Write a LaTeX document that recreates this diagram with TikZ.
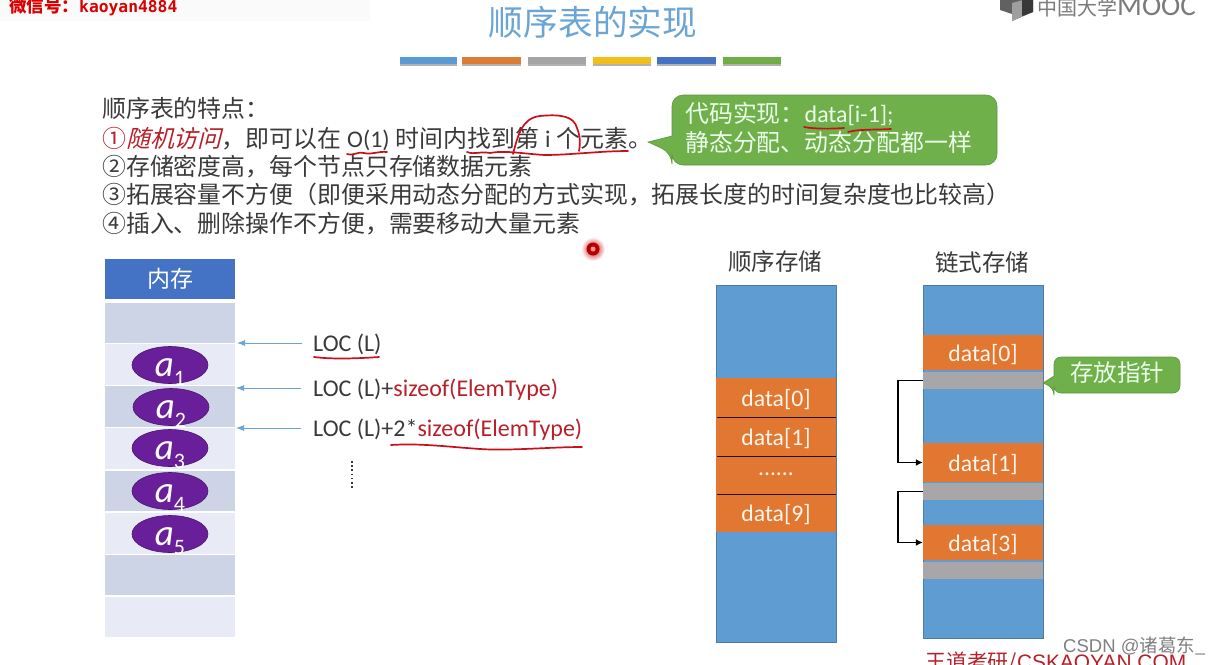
\documentclass[tikz,border=0pt]{standalone}
\usepackage{fontspec}
\setmainfont{Noto Sans CJK SC}
\newfontfamily\lat{Carlito}
\newfontfamily\cjkit[FakeSlant=0.25]{Noto Sans CJK SC}
\newfontfamily\arl{Liberation Sans}
\newfontfamily\mon{DejaVu Sans Mono}
\usetikzlibrary{shapes.geometric,shapes.callouts,arrows.meta}
\definecolor{tblue}{HTML}{6BA5D6}
\definecolor{cblue}{HTML}{5F9CD1}
\definecolor{corange}{HTML}{E27731}
\definecolor{cgray}{HTML}{A8A6A8}
\definecolor{cgreen}{HTML}{70B04A}
\definecolor{txt}{HTML}{3A3A3A}
\definecolor{redt}{HTML}{B8202A}
\definecolor{inkr}{HTML}{C8101A}
\definecolor{memh}{HTML}{4472C4}
\definecolor{memd}{HTML}{CDD4E6}
\definecolor{meml}{HTML}{E8EBF5}
\definecolor{purp}{HTML}{6A1F9A}
\tikzset{
  body/.style={anchor=base west,inner sep=0pt,text=txt,font=\fontsize{23.9}{28}\selectfont},
  cell/.style={rectangle,inner sep=0pt,draw=none,minimum width=#1},
  memcell/.style={cell=130pt},
  seqcell/.style={cell=120pt,fill=corange},
  colbox/.style={cell=120pt,fill=cblue,draw=#1,line width=.6pt},
  datal/.style={text=white!92!orange,font=\lat\fontsize{23.7}{26}\selectfont},
  elem/.style={ellipse,fill=purp,draw=purp!70!black,line width=.6pt,minimum width=76pt,minimum height=37pt,inner sep=0pt,text=white,font=\lat\itshape\fontsize{37}{37}\selectfont},
  loc/.style={anchor=base west,inner sep=0pt,text=txt,font=\lat\fontsize{24}{28}\selectfont},
  head/.style={text=txt,inner sep=0pt,font=\fontsize{23.5}{28}\selectfont},
  ink/.style={draw=inkr,line width=1.7pt,line cap=round,line join=round},
  bluearrow/.style={draw=tblue,line width=.9pt,-{Latex[length=8pt,width=6pt]}},
  ptr/.style={draw=black,line width=1.7pt,-{Latex[length=7pt,width=7pt]}},
  divider/.style={draw=black!85!corange,line width=1.2pt},
}
\newcommand{\elemtext}[1]{\raisebox{-11pt}[0pt][0pt]{a\raisebox{-9pt}{\upshape\fontsize{22}{22}\selectfont #1}}}
\newcommand{\dl}[1]{\raisebox{-8.5pt}[0pt][0pt]{#1}}
\begin{document}
\begin{tikzpicture}[x=1pt,y=-1pt]
\useasboundingbox (0,0) rectangle (1220,664);
\clip (0,0) rectangle (1220,664);
\fill[white] (0,0) rectangle (1220,664);
% top-left strip
\fill[black!2] (0,0) rectangle (370,21);
\node[anchor=base west,inner sep=0pt,text=red!85!black,font=\fontsize{17.5}{20}\selectfont\bfseries] (wx) at (9,12) {微信号：{\mon\fontsize{16.3}{20}\selectfont\bfseries kaoyan4884}};
% MOOC logo
\fill[black!62] (1000,0) -- (1000,10) -- (1012,14) -- (1012,21) -- (1033,12) -- (1033,0) -- cycle;
\fill[black!38] (1012,3) -- (1012,21) -- (1023,16) -- (1023,0) -- cycle;
\fill[black!78] (1022,0) -- (1022,16) -- (1033,12) -- (1033,0) -- cycle;
\node[anchor=base west,inner sep=0pt,text=black!52,font=\fontsize{20}{24}\selectfont] (mooc) at (1037,15) {中国大学{\lat\fontsize{29}{29}\selectfont MOOC}};
% title
\node[inner sep=0pt,text=tblue,font=\fontsize{34.7}{40}\selectfont] (title) at (593,22) {顺序表的实现};
% colour bars
\foreach \a/\b/\c in {400/457/5B9BD5,462/521/DD7C35,528/586/A5A5A5,593/651/F2BE1A,657/716/4472C4,723/781/70AD47}{
  \definecolor{barc}{HTML}{\c}
  \fill[black!30] (\a,60) rectangle (\b,66);
  \fill[barc] (\a,57) rectangle (\b,64);
}
% text block
\node[body] (l0) at (102,117) {顺序表的特点：};
\node[body] (l1) at (102,147.5) {{\color{redt}①\cjkit 随机访问}，即可以在\hspace{6pt}{\lat O(1)}\hspace{6pt}时间内找到第\hspace{6pt}{\lat i}\hspace{6pt}个元素。};
\node[body] (l2) at (102,175.5) {②存储密度高，每个节点只存储数据元素};
\node[body] (l3) at (102,203.5) {③拓展容量不方便（即便采用动态分配的方式实现，拓展长度的时间复杂度也比较高）};
\node[body] (l4) at (102,232.5) {④插入、删除操作不方便，需要移动大量元素};
% callout
\path[fill=cgreen,draw=cgreen!85!black,line width=.6pt,rounded corners=11pt]
  (672,95) -- (997,95) -- (997,165) -- (672,165) -- (672,153) [sharp corners] -- (648,142) -- (672,136) [rounded corners=11pt] -- cycle;
\node[anchor=base west,inner sep=0pt,text=white!92!green,font=\fontsize{23.9}{28}\selectfont] (cb1) at (685,122.5) {代码实现：{\lat data[i-1];}};
\node[anchor=base west,inner sep=0pt,text=white!92!green,font=\fontsize{23.9}{28}\selectfont] (cb2) at (685,151.5) {静态分配、动态分配都一样};
% memory column
\node[memcell,fill=memh,minimum height=40pt,text=white,font=\fontsize{23}{28}\selectfont] (mh) at (170,279) {内存};
\node[memcell,fill=memd,minimum height=40pt] (m0) at (170,323) {};
\node[memcell,fill=meml,minimum height=40.5pt] (m1) at (170,364.5) {};
\node[memcell,fill=memd,minimum height=40.5pt] (m2) at (170,406.5) {};
\node[memcell,fill=meml,minimum height=41pt] (m3) at (170,448.5) {};
\node[memcell,fill=memd,minimum height=40.5pt] (m4) at (170,491) {};
\node[memcell,fill=meml,minimum height=41pt] (m5) at (170,533) {};
\node[memcell,fill=memd,minimum height=40.5pt] (m6) at (170,575) {};
\node[memcell,fill=meml,minimum height=40.5pt] (m7) at (170,617) {};
\node[elem] (a1) at (170,365) {\elemtext{1}};
\node[elem] (a2) at (171,407) {\elemtext{2}};
\node[elem] (a3) at (170,448) {\elemtext{3}};
\node[elem] (a4) at (170,491) {\elemtext{4}};
\node[elem] (a5) at (170,534) {\elemtext{5}};
% LOC labels
\node[loc] (L1) at (313,351) {LOC (L)};
\node[loc] (L2) at (313,396) {LOC (L)+{\color{redt}sizeof(ElemType)}};
\node[loc] (L3) at (313,436) {LOC (L)+2*{\color{redt}sizeof(ElemType)}};
\coordinate (s1) at (302,343); \coordinate (e1) at (237,343);
\coordinate (s2) at (301,388); \coordinate (e2) at (236,388);
\coordinate (s3) at (301,428); \coordinate (e3) at (236,428);
\draw[bluearrow] (s1) -- (e1);
\draw[bluearrow] (s2) -- (e2);
\draw[bluearrow] (s3) -- (e3);
\draw[line width=1.6pt,txt,dash pattern=on 1.6pt off 2.6pt] (352,461) -- (352,490);
% sequential storage
\node[head] (hs) at (775,262) {顺序存储};
\node[colbox=cblue!80!black,minimum height=357pt] (sc) at (776,463.5) {};
\node[seqcell,minimum height=39pt,datal] (s0) at (776,397.5) {\dl{data[0]}};
\node[seqcell,minimum height=39pt,datal] (s1b) at (776,436.5) {\dl{data[1]}};
\node[seqcell,minimum height=38pt,datal] (sd) at (776,475) {};
\node[anchor=base,inner sep=0pt,datal] (sdots) at (sd.center) {......};
\node[seqcell,minimum height=38pt,datal] (s9) at (776,513) {\dl{data[9]}};
\draw[divider] (s0.south west) ++(1,0) -- (s0.south east);
\draw[divider] (s1b.south west) ++(1,0) -- (s1b.south east);
\draw[divider] (sd.south west) ++(1,0) -- (sd.south east);
% linked storage
\node[head] (hl) at (982,263) {链式存储};
\node[colbox=cblue!80!black,minimum height=353pt] (lc) at (983,461.5) {};
\node[seqcell,minimum height=35pt,datal] (d0) at (983,352.5) {\dl{data[0]}};
\node[cell=120pt,fill=cgray,minimum height=17pt] (g0) at (983,380.5) {};
\node[seqcell,minimum height=39pt,datal] (d1) at (983,462.5) {\dl{data[1]}};
\node[cell=120pt,fill=cgray,minimum height=17pt] (g1) at (983,491.5) {};
\node[seqcell,minimum height=35pt,datal] (d3) at (983,542.5) {\dl{data[3]}};
\node[cell=120pt,fill=cgray,minimum height=17pt] (g3) at (983,570.5) {};
\draw[ptr] (g0.west) -- ++(-25,0) |- (d1.west);
\draw[ptr] (g1.west) -- ++(-25,0) |- (d3.west);
% pointer callout
\path[fill=cgreen,draw=cgreen!85!black,line width=.6pt,rounded corners=7pt]
  (1054,357) -- (1180,357) -- (1180,393) -- (1054,393) -- (1054,388) [sharp corners] -- (1043,383) -- (1054,376) [rounded corners=7pt] -- cycle;
\node[inner sep=0pt,text=white!92!green,font=\fontsize{23.5}{28}\selectfont] (cp) at (1117,373) {存放指针};
% handwritten red ink
\draw[ink] (314,357) .. controls (330,359) and (350,359) .. (379,357);
\draw[ink] (391,445) .. controls (420,443) and (450,447) .. (480,449) .. controls (510,451) and (550,447) .. (582,447);
\draw[ink] (347,154) .. controls (355,156) and (358,151) .. (364,153) .. controls (372,155) and (378,151) .. (387,152);
\draw[ink] (467,152) .. controls (475,155) and (480,151) .. (490,153) .. controls (505,150) and (525,154) .. (545,155) .. controls (570,155) and (600,151) .. (628,151);
\draw[ink] (513,154) .. controls (518,135) and (522,118) .. (540,116) .. controls (560,114) and (574,116) .. (577,128) .. controls (581,138) and (580,145) .. (579,151);
\draw[ink] (804,127) .. controls (815,129) and (830,129) .. (844,128);
\draw[ink] (848,132) .. controls (858,129) and (875,130) .. (891,129);
% laser dot
\shade[inner color=red!80!black,outer color=white] (593,249) circle (12);
\fill[red!70!black] (593,249) circle (6.5);
\fill[red!45!white] (593,249) circle (2.5);
% footer
\node[anchor=base west,inner sep=0pt,text=redt,font=\fontsize{20.9}{24}\selectfont] (wd) at (925,669) {王道考研/{\arl CSKAOYAN.COM}};
\node[anchor=base west,inner sep=0pt,text=black!50,font=\fontsize{18.5}{20}\selectfont] (csdn) at (1063,652) {{\arl CSDN @}诸葛东\_};
\end{tikzpicture}
\end{document}
